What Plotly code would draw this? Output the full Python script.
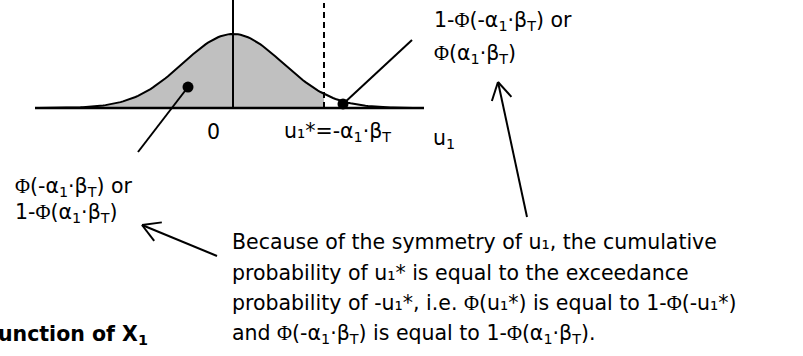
import math
import plotly.graph_objects as go

# Standard normal density of u1 and the threshold u1* = -a1*bT
u_grid = [i / 20 for i in range(-78, 73)]
density = [math.exp(-u * u / 2) / math.sqrt(2 * math.pi) for u in u_grid]
u_star = 1.82
axis_span = [-3.96, 3.82]
dot_left = (-0.9, 0.113)
dot_right = (2.2, 0.022)

# page layout: pixel origin of the u/density frame and its scale
W, H = 803, 356
X0, Y0 = 233, 108
SX, SY = 50.0, 185.5


def px(x):
    return (x - X0) / SX


def py(y):
    return (Y0 - y) / SY


PHI = "<span style=\"font-family:'Liberation Serif'\">Φ</span>"
FONT = "DejaVu Sans"
FS = 20.5
INK = "black"

fig = go.Figure()

# shaded cumulative area left of u1*
shade_u = [u for u in u_grid if u <= u_star] + [u_star]
shade_d = [math.exp(-u * u / 2) / math.sqrt(2 * math.pi) for u in shade_u]
fig.add_trace(go.Scatter(
    x=shade_u + [u_star, shade_u[0]], y=shade_d + [0, 0],
    fill="toself", fillcolor="#c0c0c0", line=dict(width=0),
    mode="lines", hoverinfo="skip"))

# density curve
fig.add_trace(go.Scatter(x=u_grid, y=density, mode="lines",
                         line=dict(color=INK, width=2), hoverinfo="skip"))

shapes = []
# u1 axis
shapes.append(dict(type="line", x0=axis_span[0], x1=axis_span[1], y0=0, y1=0,
                   line=dict(color=INK, width=2.5)))
# vertical axis at 0
shapes.append(dict(type="line", x0=0, x1=0, y0=0, y1=py(0),
                   line=dict(color=INK, width=2)))
# threshold u1*
shapes.append(dict(type="line", x0=u_star, x1=u_star, y0=0, y1=py(3),
                   line=dict(color=INK, width=2, dash="6px,4px")))


def seg(p, q, w=2):
    shapes.append(dict(type="line", x0=px(p[0]), y0=py(p[1]),
                       x1=px(q[0]), y1=py(q[1]),
                       line=dict(color=INK, width=w)))


def arrow(tail, tip, size=20, spread=30):
    seg(tail, tip)
    ang = math.atan2(tail[1] - tip[1], tail[0] - tip[0])
    for s in (-1, 1):
        a = ang + s * math.radians(spread)
        seg(tip, (tip[0] + size * math.cos(a), tip[1] + size * math.sin(a)))


# leader lines from the dots
seg((188, 87), (138, 152))
seg((343, 104), (412, 40))
# arrows toward the two probability labels
arrow((217, 256), (142, 225))
arrow((527, 217), (498, 82))

# dots marking the two areas
fig.add_trace(go.Scatter(x=[dot_left[0], dot_right[0]],
                         y=[dot_left[1], dot_right[1]], mode="markers",
                         marker=dict(color=INK, size=11), hoverinfo="skip"))

ann = []


def text(x, y, s, anchor="left", bold=False):
    ann.append(dict(x=px(x), y=py(y), text=("<b>%s</b>" % s) if bold else s,
                    xanchor=anchor, yanchor="middle", showarrow=False,
                    font=dict(family=FONT, size=FS, color=INK)))


text(213, 132, "0", anchor="center")
text(282, 132, "u₁*=-α<sub>1</sub>·β<sub>T</sub>")
text(431, 139, "u<sub>1</sub>")
text(432, 21, "1-%s(-α<sub>1</sub>·β<sub>T</sub>) or" % PHI)
text(432, 54, "%s(α<sub>1</sub>·β<sub>T</sub>)" % PHI)
text(13, 187, "%s(-α<sub>1</sub>·β<sub>T</sub>) or" % PHI)
text(13, 213, "1-%s(α<sub>1</sub>·β<sub>T</sub>)" % PHI)
text(150, 335, "Function of X<sub>1</sub>", anchor="right", bold=True)

para = [
    "Because of the symmetry of u₁, the cumulative",
    "probability of u₁* is equal to the exceedance",
    "probability of -u₁*, i.e. %s(u₁*) is equal to 1-%s(-u₁*)" % (PHI, PHI),
    "and %s(-α<sub>1</sub>·β<sub>T</sub>) is equal to 1-%s(α<sub>1</sub>·β<sub>T</sub>)." % (PHI, PHI),
]
for i, line in enumerate(para):
    text(230, 242 + 30.7 * i, line)

fig.update_layout(
    width=W, height=H, margin=dict(l=0, r=0, t=0, b=0),
    paper_bgcolor="white", plot_bgcolor="white", showlegend=False,
    xaxis=dict(range=[px(0), px(W)], visible=False, fixedrange=True),
    yaxis=dict(range=[py(H), py(0)], visible=False, fixedrange=True),
    shapes=shapes, annotations=ann,
)

fig.write_html("out.html", config={"displayModeBar": False})
